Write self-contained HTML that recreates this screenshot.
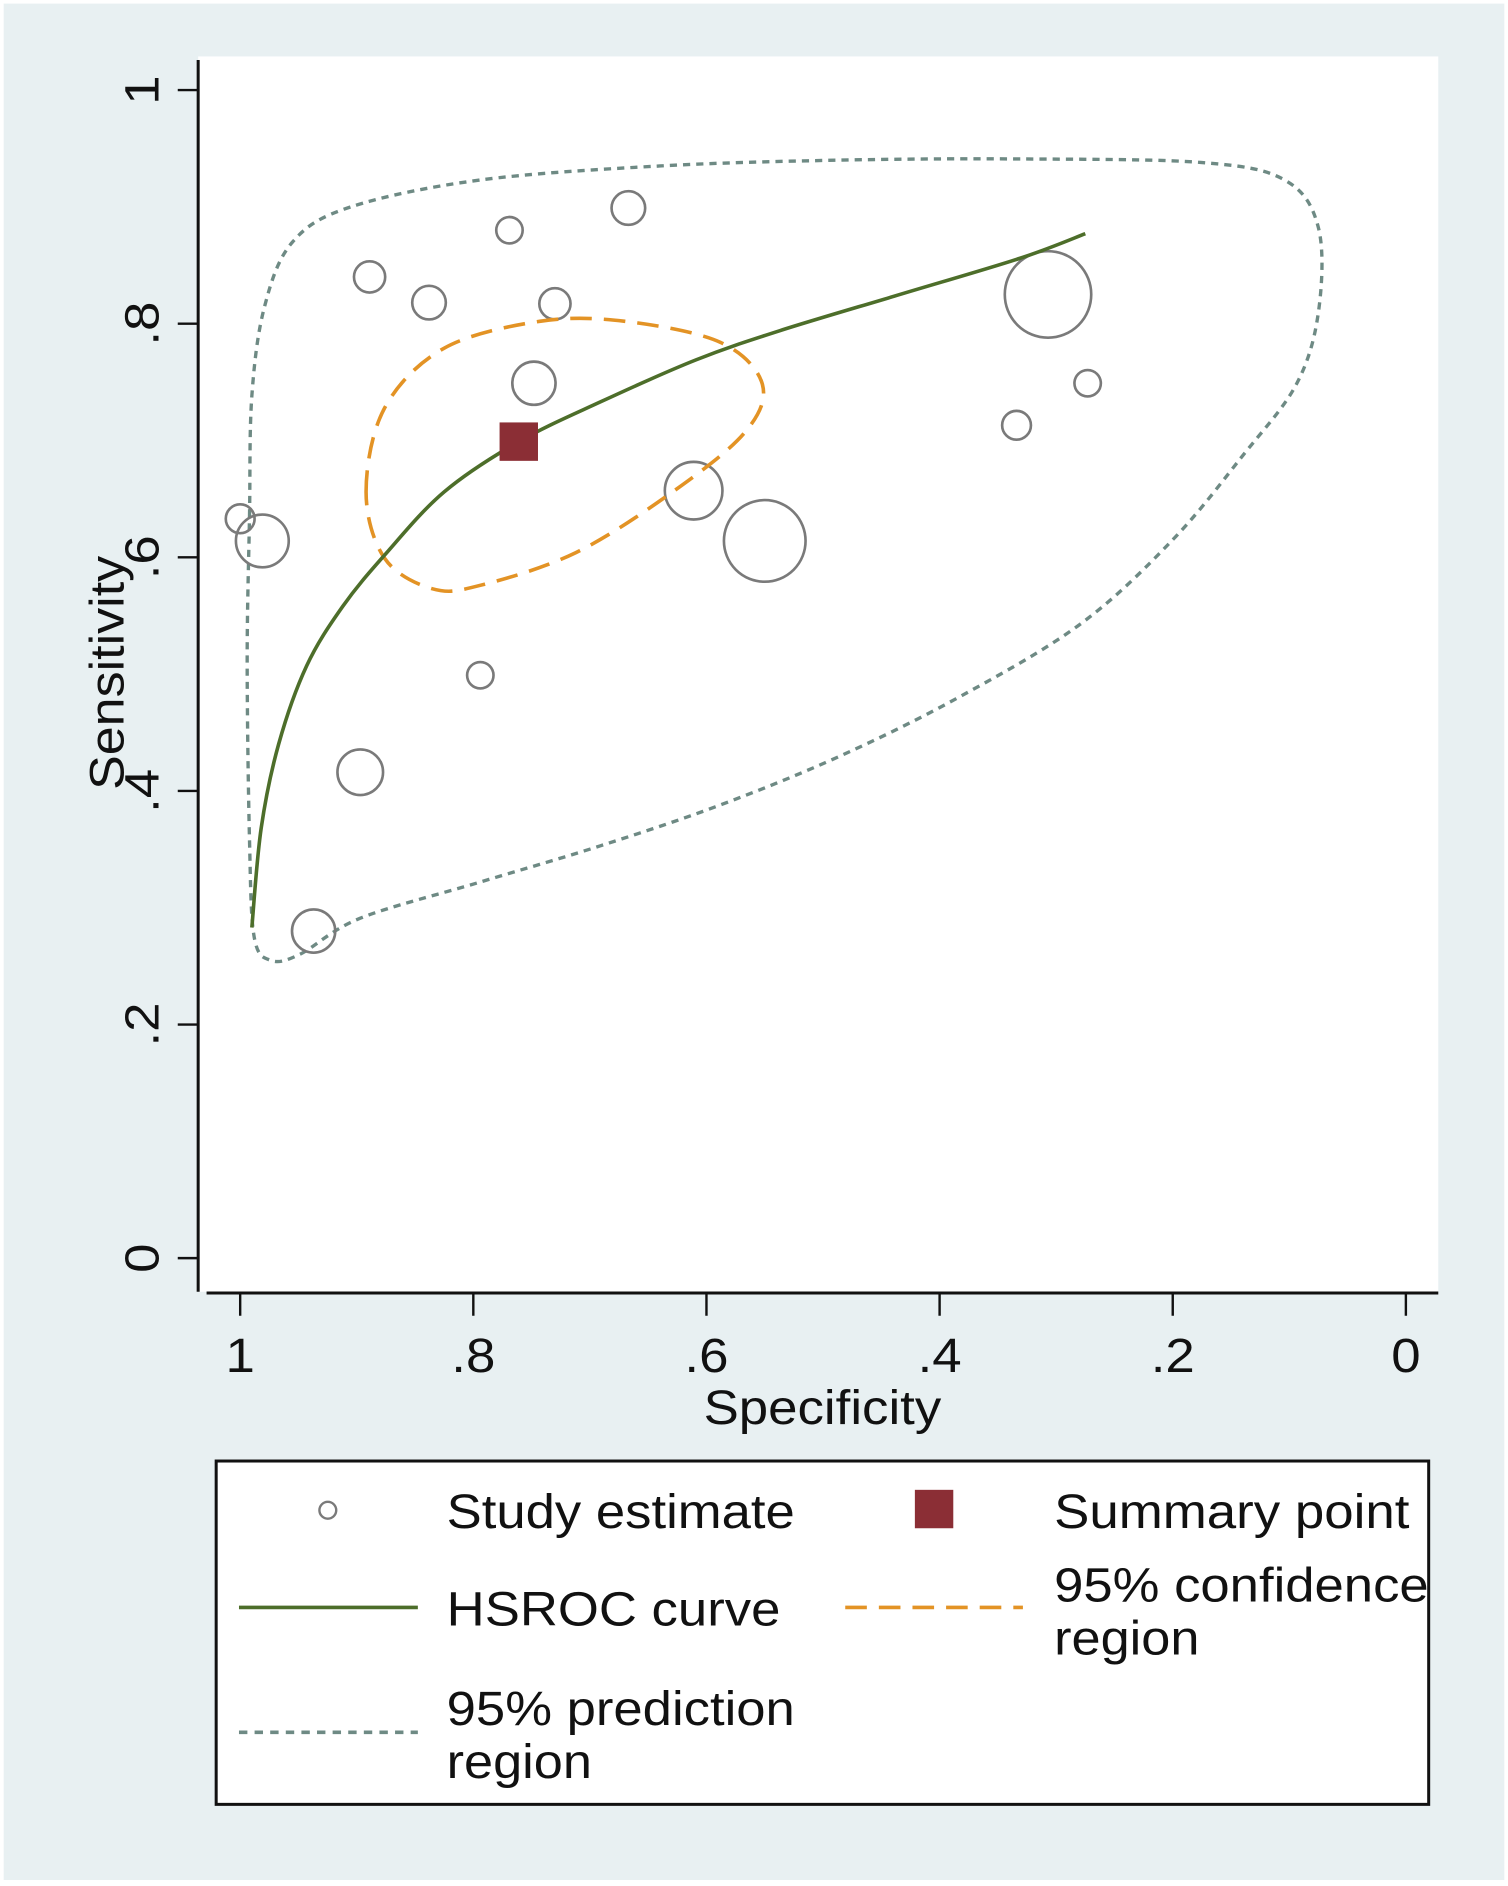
<!DOCTYPE html>
<html><head><meta charset="utf-8"><style>
html,body{margin:0;padding:0;background:#fff}
svg{display:block}
text{font-family:"Liberation Sans",Arial,sans-serif;fill:#111}
</style></head><body>
<svg id="chart" width="1508" height="1886" viewBox="0 0 1256 1571" xmlns="http://www.w3.org/2000/svg">
<rect x="0" y="0" width="1256" height="1571" fill="#fff"/>
<rect x="3" y="3" width="1250" height="1563" fill="#e8f0f2"/>
<rect x="165" y="47" width="1033" height="1029" fill="#fff"/>
<g id="axes"></g>
<g id="marks"></g>
<text x="586" y="1186" textLength="198" lengthAdjust="spacingAndGlyphs" font-size="40">Specificity</text>
<text transform="translate(103,658) rotate(-90)" textLength="195" lengthAdjust="spacingAndGlyphs" font-size="40">Sensitivity</text>
<g>
<rect x="180" y="1217" width="1010" height="286" fill="#fff" stroke="#111" stroke-width="2.5"/>
<circle cx="273" cy="1258" r="7" fill="none" stroke="#7a7a7a" stroke-width="2"/>
<text x="372" y="1273" font-size="40" textLength="290" lengthAdjust="spacingAndGlyphs">Study estimate</text>
<rect x="762" y="1241" width="32" height="32" fill="#8b2e35"/>
<text x="878" y="1273" font-size="40" textLength="296" lengthAdjust="spacingAndGlyphs">Summary point</text>
<line x1="199" y1="1339" x2="348" y2="1339" stroke="#4d6e2a" stroke-width="3"/>
<text x="372" y="1354" font-size="40" textLength="278" lengthAdjust="spacingAndGlyphs">HSROC curve</text>
<line x1="704" y1="1339" x2="852" y2="1339" stroke="#e39325" stroke-width="3" stroke-dasharray="18,10"/>
<text x="878" y="1334" font-size="40" textLength="312" lengthAdjust="spacingAndGlyphs">95% confidence</text>
<text x="878" y="1378" font-size="40" textLength="121" lengthAdjust="spacingAndGlyphs">region</text>
<line x1="199" y1="1443" x2="348" y2="1443" stroke="#6e8a84" stroke-width="3" stroke-dasharray="7,6"/>
<text x="372" y="1437" font-size="40" textLength="290" lengthAdjust="spacingAndGlyphs">95% prediction</text>
<text x="372" y="1481" font-size="40" textLength="121" lengthAdjust="spacingAndGlyphs">region</text>
</g>
</svg>
<script>
const NS="http://www.w3.org/2000/svg";
const xTicks=[1,0.8,0.6,0.4,0.2,0];
const xTickLabels=["1",".8",".6",".4",".2","0"];
const yTicks=[0,0.2,0.4,0.6,0.8,1];
const yTickLabels=["0",".2",".4",".6",".8","1"];
const studySpec=[1.0,0.981,0.889,0.838,0.769,0.667,0.730,0.748,0.611,0.550,0.307,0.273,0.334,0.794,0.897,0.937];
const studySens=[0.633,0.614,0.840,0.818,0.880,0.899,0.817,0.749,0.657,0.614,0.825,0.749,0.713,0.499,0.416,0.280];
const studySize=[12,22,13,14,11,14,13,18,24,34,36,11,12,11,19,18];
const summarySpec=[0.761];
const summarySens=[0.699];
const curveSpec=[0.990,0.982,0.967,0.943,0.912,0.876,0.825,0.761,0.691,0.609,0.537,0.434,0.331,0.275];
const curveSens=[0.283,0.368,0.440,0.507,0.558,0.602,0.656,0.699,0.733,0.769,0.794,0.825,0.856,0.877];
const confSpec=[0.892,0.876,0.825,0.743,0.670,0.588,0.552,0.567,0.629,0.712,0.794,0.835,0.876];
const confSens=[0.656,0.728,0.779,0.802,0.802,0.784,0.748,0.707,0.656,0.604,0.576,0.573,0.599];
const predSpec=[0.992,0.990,0.979,0.955,0.905,0.794,0.640,0.485,0.331,0.176,0.104,0.075,0.075,0.094,0.140,0.200,0.279,0.382,0.485,0.588,0.691,0.794,0.897,0.949,0.974,0.988,0.992,0.994];
const predSens=[0.635,0.738,0.815,0.870,0.900,0.923,0.935,0.940,0.941,0.938,0.923,0.882,0.810,0.748,0.687,0.615,0.543,0.481,0.430,0.388,0.353,0.322,0.291,0.260,0.255,0.275,0.358,0.512];

const X=s=>200+(1-s)*971;
const Y=v=>1048-973*v;
function el(tag,attrs,parent){const e=document.createElementNS(NS,tag);for(const k in attrs)e.setAttribute(k,attrs[k]);parent.appendChild(e);return e;}
const axes=document.getElementById('axes'), marks=document.getElementById('marks');

const yl=el('line',{x1:165,y1:50,x2:165,y2:1076,stroke:'#111','stroke-width':2.5},axes);


const xl=el('line',{x1:172,y1:1077,x2:1198,y2:1077,stroke:'#111','stroke-width':2.5},axes);


yTicks.forEach((v,i)=>{
  const t=el('line',{x1:148,y1:Y(v),x2:165,y2:Y(v),stroke:'#111','stroke-width':2},axes);
  
  
  const lb=el('text',{transform:`translate(132,${Y(v)}) rotate(-90) scale(1.1,1)`,'text-anchor':'middle','font-size':40},axes);
  lb.textContent=yTickLabels[i];
  
  
});
xTicks.forEach((s,i)=>{
  const t=el('line',{x1:X(s),y1:1077,x2:X(s),y2:1096,stroke:'#111','stroke-width':2},axes);
  
  
  const lb=el('text',{transform:`translate(${X(s)},1143) scale(1.1,1)`,'text-anchor':'middle','font-size':40},axes);
  lb.textContent=xTickLabels[i];
  
  
});
function smooth(xs,ys,closed){
  const p=xs.map((s,i)=>[X(s),Y(ys[i])]);const n=p.length;
  let d=`M${p[0][0]},${p[0][1]}`;
  const last=closed?n:n-1;
  for(let i=0;i<last;i++){
    const g=j=>closed?p[(j+n)%n]:p[Math.max(0,Math.min(n-1,j))];
    const p0=g(i-1),p1=g(i),p2=g(i+1),p3=g(i+2);
    const c1=[p1[0]+(p2[0]-p0[0])/6,p1[1]+(p2[1]-p0[1])/6];
    const c2=[p2[0]-(p3[0]-p1[0])/6,p2[1]-(p3[1]-p1[1])/6];
    d+=` C${c1[0]},${c1[1]} ${c2[0]},${c2[1]} ${p2[0]},${p2[1]}`;
  }
  return d+(closed?'Z':'');
}
const pred=el('path',{d:smooth(predSpec,predSens,true),fill:'none',stroke:'#6e8a84','stroke-width':2.8,'stroke-dasharray':'6,5'},marks);


studySpec.forEach((s,i)=>{
  const c=el('circle',{cx:X(s),cy:Y(studySens[i]),r:studySize[i],fill:'none',stroke:'#7a7a7a','stroke-width':2.2},marks);
  
  
});
const conf=el('path',{d:smooth(confSpec,confSens,true),fill:'none',stroke:'#e39325','stroke-width':3,'stroke-dasharray':'18,10'},marks);


const curve=el('path',{d:smooth(curveSpec,curveSens,false),fill:'none',stroke:'#4d6e2a','stroke-width':3},marks);


summarySpec.forEach((s,i)=>{
  const r=el('rect',{x:X(s)-16,y:Y(summarySens[i])-16,width:32,height:32,fill:'#8b2e35'},marks);
  
  
});
</script>
</body></html>
